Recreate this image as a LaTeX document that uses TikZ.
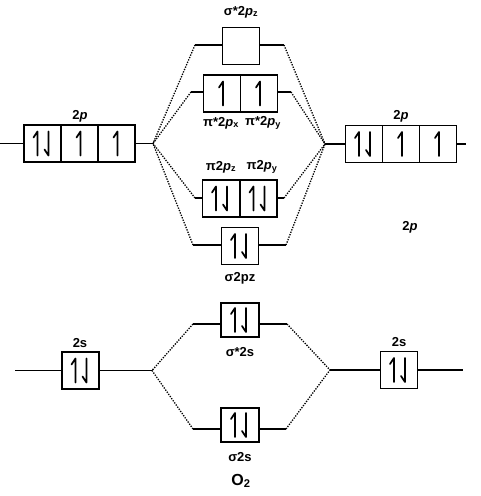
\documentclass[tikz,border=0pt]{standalone}
\usepackage{fontspec}
\setmainfont{Liberation Sans}
\usetikzlibrary{calc}
\tikzset{
  orb/.style={draw, line width=1.3pt, minimum width=37pt, minimum height=37pt, inner sep=0pt},
  orbs/.style={orb, minimum height=34pt, minimum width=38pt},
  lbl/.style={font=\bfseries\fontsize{13}{14}\selectfont, inner sep=0pt},
  ln/.style={line width=1.1pt},
  dl/.style={line width=1.3pt, dash pattern=on 1.3pt off 1.3pt},
  arr/.style={line width=1.7pt, line cap=round, line join=round}
}
\newcommand\hup[2]{\draw[arr] ($(#1.center)+(#2,12)$) -- ($(#1.center)+(#2,-12)$) -- ++(-4,6);}
\newcommand\hdn[2]{\draw[arr] ($(#1.center)+(#2,-12)$) -- ($(#1.center)+(#2,12)$) -- ++(-4,-6);}
\newcommand\pair[1]{\hup{#1}{-5}\hdn{#1}{6}}
\newcommand\single[1]{\hup{#1}{1}}
\begin{document}
\begin{tikzpicture}[x=1pt,y=-1pt]
\useasboundingbox (0,0) rectangle (480,496);
% left 2p
\node[orb] (L1) at (42.5,143.5) {};
\node[orb] (L2) at (79.5,143.5) {};
\node[orb] (L3) at (116.5,143.5) {};
\pair{L1}\single{L2}\single{L3}
\node[lbl] (Lp) at (80,116) {2\textit{p}};
\coordinate (Lst) at (0,143.5);
\coordinate (CL) at (153,143.5);
\draw[ln] (Lst) -- (L1.west);
\draw[ln] (L3.east) -- (CL);
% right 2p
\node[orb] (R1) at (364,144) {};
\node[orb] (R2) at (401,144) {};
\node[orb] (R3) at (438,144) {};
\pair{R1}\single{R2}\single{R3}
\node[lbl] (Rp) at (401,116) {2\textit{p}};
\coordinate (CR) at (325,144);
\coordinate (Rend) at (466,144);
\draw[ln] (CR) -- (R1.west);
\draw[ln] (R3.east) -- (Rend);
% sigma* 2pz
\node[orb] (S1) at (241,46) {};
\node[lbl] (S1l) at (241,12) {σ*2\textit{p}\textsubscript{z}};
\coordinate (S1a) at (195,45);
\coordinate (S1b) at (284,45);
\draw[ln] (S1a) -- (S1a -| S1.west);
\draw[ln] (S1b -| S1.east) -- (S1b);
\draw[dl] (S1a) -- (CL);
\draw[dl] (S1b) -- (CR);
% pi*
\node[orb] (P1) at (222,93.5) {};
\node[orb] (P2) at (259,93.5) {};
\single{P1}\single{P2}
\node[lbl] (P1l) at (221,123) {π*2\textit{p}\textsubscript{x}};
\node[lbl] (P2l) at (263,123) {π*2\textit{p}\textsubscript{y}};
\coordinate (P1a) at (191,92);
\coordinate (P1b) at (291,92);
\draw[ln] (P1a) -- (P1a -| P1.west);
\draw[ln] (P1b -| P2.east) -- (P1b);
\draw[dl] (P1a) -- (CL);
\draw[dl] (P1b) -- (CR);
% pi
\node[orb] (Q1) at (221,198.5) {};
\node[orb] (Q2) at (258.5,198.5) {};
\pair{Q1}\pair{Q2}
\node[lbl] (Q1l) at (221,167) {π2\textit{p}\textsubscript{z}};
\node[lbl] (Q2l) at (262,167) {π2\textit{p}\textsubscript{y}};
\coordinate (Q1a) at (195,198);
\coordinate (Q1b) at (284,198);
\draw[ln] (Q1a) -- (Q1a -| Q1.west);
\draw[ln] (Q1b -| Q2.east) -- (Q1b);
\draw[dl] (Q1a) -- (CL);
\draw[dl] (Q1b) -- (CR);
% sigma 2pz
\node[orb] (S2) at (240,246) {};
\pair{S2}
\node[lbl] (S2l) at (240,278) {σ2pz};
\coordinate (S2a) at (193,245);
\coordinate (S2b) at (286,245);
\draw[ln] (S2a) -- (S2a -| S2.west);
\draw[ln] (S2b -| S2.east) -- (S2b);
\draw[dl] (S2a) -- (CL);
\draw[dl] (S2b) -- (CR);
\node[lbl] (mid2p) at (410,227) {2\textit{p}};
% 2s left
\node[orb] (A) at (80.5,370.5) {};
\pair{A}
\node[lbl] (Al) at (80,343) {2s};
\coordinate (Ast) at (15,370.5);
\coordinate (CA) at (152,370.5);
\draw[ln] (Ast) -- (A.west);
\draw[ln] (A.east) -- (CA);
% 2s right
\node[orb] (B) at (399,370) {};
\pair{B}
\node[lbl] (Bl) at (399,342) {2s};
\coordinate (CB) at (330,370);
\coordinate (Bend) at (463,370);
\draw[ln] (CB) -- (B.west);
\draw[ln] (B.east) -- (Bend);
% sigma* 2s
\node[orbs] (T1) at (240,320) {};
\pair{T1}
\node[lbl] (T1l) at (240,352) {σ*2s};
\coordinate (T1a) at (193,324);
\coordinate (T1b) at (287,324);
\draw[ln] (T1a) -- (T1a -| T1.west);
\draw[ln] (T1b -| T1.east) -- (T1b);
\draw[dl] (T1a) -- (CA);
\draw[dl] (T1b) -- (CB);
% sigma 2s
\node[orbs] (T2) at (240,425) {};
\pair{T2}
\node[lbl] (T2l) at (240,457) {σ2s};
\coordinate (T2a) at (193,429);
\coordinate (T2b) at (286,429);
\draw[ln] (T2a) -- (T2a -| T2.west);
\draw[ln] (T2b -| T2.east) -- (T2b);
\draw[dl] (T2a) -- (CA);
\draw[dl] (T2b) -- (CB);
\node[lbl, font=\bfseries\fontsize{16}{17}\selectfont] (O2) at (241,481) {O\textsubscript{2}};
\end{tikzpicture}
\end{document}
